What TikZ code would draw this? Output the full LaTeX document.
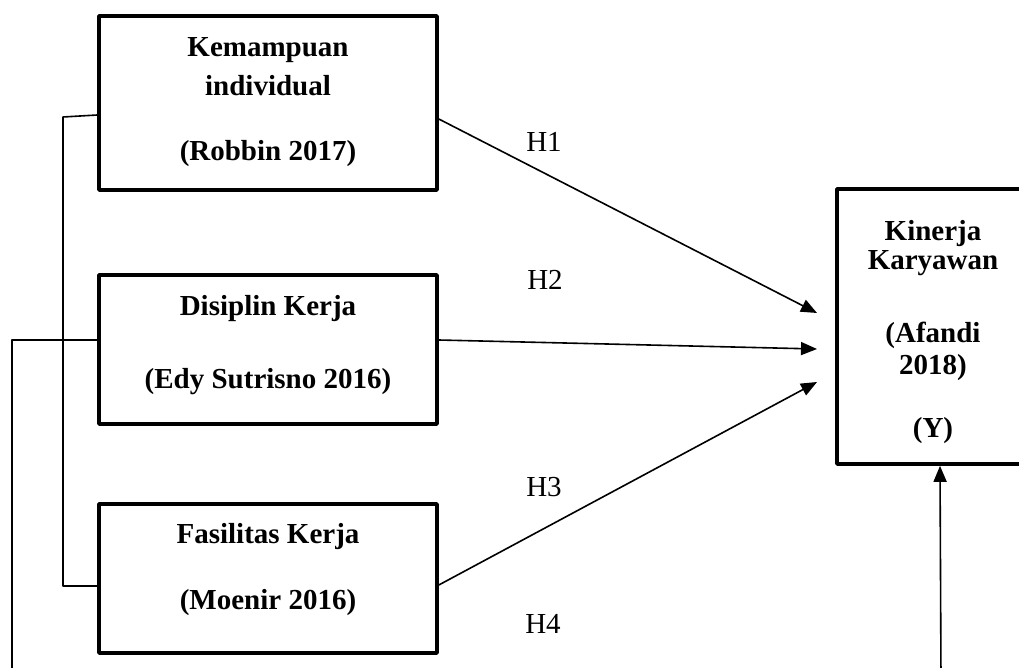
\documentclass[tikz,border=0pt]{standalone}
\usepackage{fontspec}
\setmainfont{Liberation Serif}
\usepackage{tikz}
\usetikzlibrary{arrows.meta}

\begin{document}
\begin{tikzpicture}[line cap=round,line join=round,>={Triangle[length=16pt,width=13pt]},x=1pt,y=-1pt,line width=1.6pt,
  box/.style={draw,line width=3.6pt,minimum width=338pt,inner sep=0pt},
  txt/.style={align=center,font=\fontsize{29}{32}\selectfont\bfseries},
  hyp/.style={font=\fontsize{29}{32}\selectfont}]
      \useasboundingbox (0,0) rectangle (1019,668);
      \clip (0,0) rectangle (1019,668);
      % boxes
      \node[box,minimum height=174pt] (k1) at (268,103) {};
      \node[box,minimum height=149pt] (k2) at (268,349.5) {};
      \node[box,minimum height=149pt] (k3) at (268,578.5) {};
      \node[box,minimum width=206pt,minimum height=275pt] (ky) at (940,326.5) {};
      \node[txt] (k1t) at (268,102) {Kemampuan\\[7pt]individual\\[33pt](Robbin 2017)};
      \node[txt] (k2t) at (268,345) {Disiplin Kerja\\[41pt](Edy Sutrisno 2016)};
      \node[txt] (k3t) at (268,569.5) {Fasilitas Kerja\\[34pt](Moenir 2016)};
      \node[txt] (kyt) at (933,332.5) {Kinerja\\[-3pt]Karyawan\\[41pt](Afandi\\2018)\\[31pt](Y)};
      % hypotheses
      \node[hyp] (h1) at (544,142) {H1};
      \node[hyp] (h2) at (545,280) {H2};
      \node[hyp] (h3) at (544,487) {H3};
      \node[hyp] (h4) at (543,624) {H4};
      \coordinate (t1) at (817,313);
      \coordinate (t2) at (817,349);
      \coordinate (t3) at (817,382);
      \coordinate (b1) at (63,117);
      \coordinate (b3) at (63,586);
      \coordinate (b2) at (12,340);
      \coordinate (b4) at (12,680);
      \coordinate (yb) at (941,680);
      \draw [->] ([yshift=-16pt]k1.east) -- (t1);
      \draw [->] ([yshift=9.5pt]k2.east) -- (t2);
      \draw [->] ([yshift=-6.5pt]k3.east) -- (t3);
      \draw [->] (yb) -- (ky.south);
      \draw ([yshift=-12pt]k1.west) -- (b1) -- (b3) -- ([yshift=-7.5pt]k3.west);
      \draw ([yshift=9.5pt]k2.west) -- (b2) -- (b4);
\end{tikzpicture}
\end{document}
